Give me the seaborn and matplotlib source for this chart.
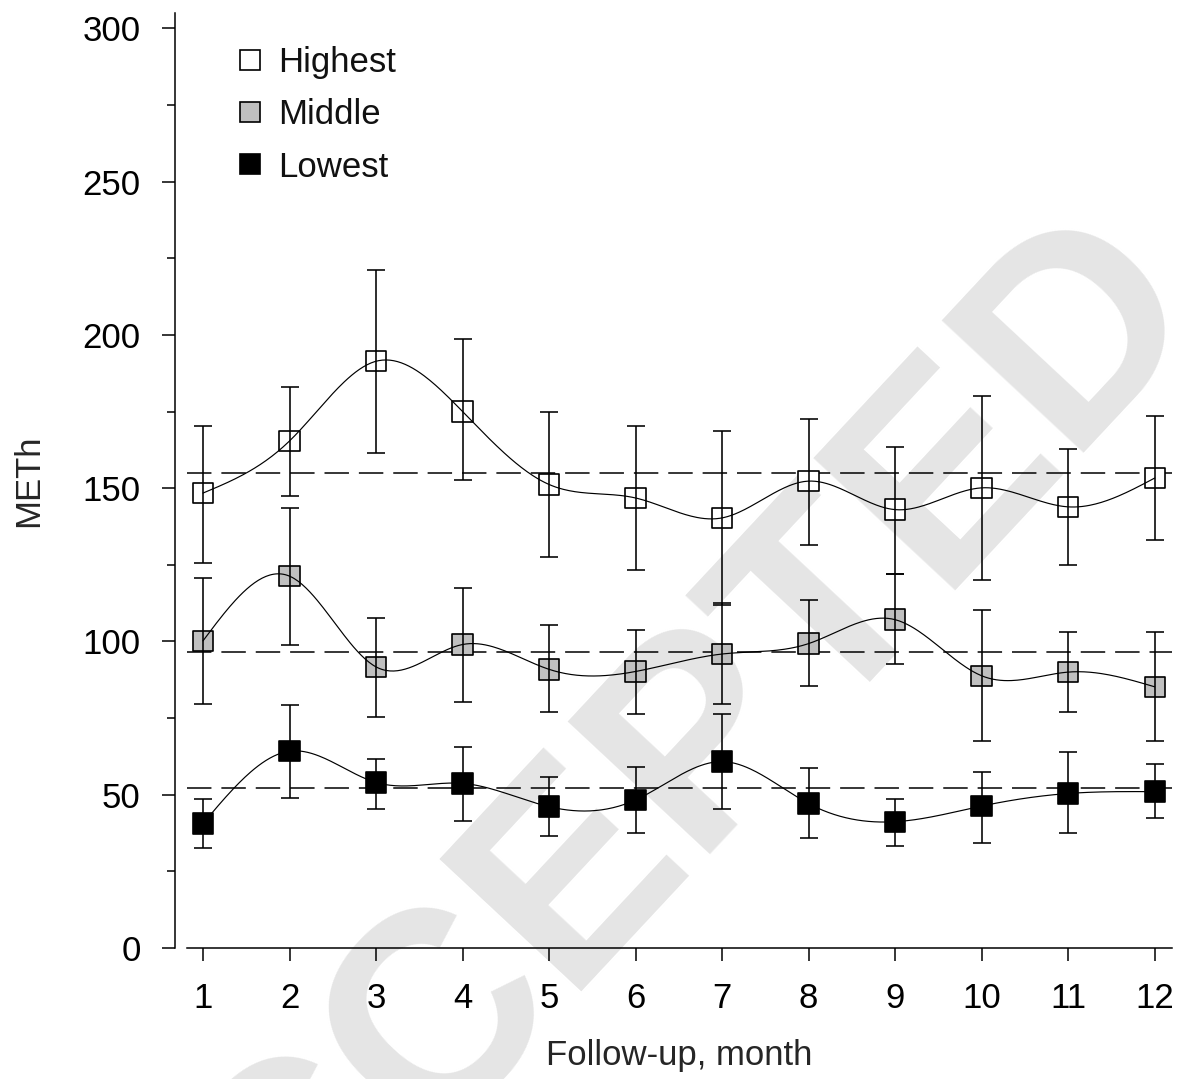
import numpy as np
import pandas as pd
import matplotlib
matplotlib.use("Agg")
import matplotlib.pyplot as plt
import seaborn as sns
from matplotlib.lines import Line2D
from matplotlib.ticker import MultipleLocator

# ---------------- data ----------------
months = [1, 2, 3, 4, 5, 6, 7, 8, 9, 10, 11, 12]
groups = ["Highest", "Middle", "Lowest"]

highest_mean = [148.4, 165.4, 191.4, 175.0, 151.2, 146.8, 140.3, 152.3, 143.0, 150.1, 143.9, 153.3]
highest_upper = [170.3, 183.0, 221.3, 198.5, 175.0, 170.2, 168.6, 172.5, 163.5, 180.1, 162.7, 173.5]
highest_lower = [125.6, 147.4, 161.5, 152.6, 127.4, 123.2, 112.0, 131.4, 122.1, 120.0, 124.9, 133.0]

middle_mean = [100.2, 121.3, 91.7, 99.0, 90.9, 90.2, 95.9, 99.3, 107.1, 88.8, 90.0, 85.2]
middle_upper = [120.7, 143.6, 107.8, 117.5, 105.3, 103.7, 112.4, 113.5, 122.0, 110.2, 103.0, 103.0]
middle_lower = [79.6, 99.0, 75.4, 80.2, 77.1, 76.3, 79.6, 85.4, 92.5, 67.5, 77.1, 67.5]

lowest_mean = [40.6, 64.2, 54.0, 53.7, 46.1, 48.3, 60.8, 47.1, 41.2, 46.3, 50.4, 51.0]
lowest_upper = [48.7, 79.4, 61.6, 65.6, 55.9, 59.1, 76.3, 58.6, 48.6, 57.5, 64.0, 60.0]
lowest_lower = [32.5, 48.8, 45.5, 41.4, 36.6, 37.4, 45.5, 35.8, 33.3, 34.1, 37.4, 42.3]

reference_levels = [155.0, 96.4, 52.1]

y_ticks = [0, 50, 100, 150, 200, 250, 300]
x_label = "Follow-up, month"
y_label = "METh"
watermark = "ACCEPTED"

fills = {"Highest": "white", "Middle": "#c0c0c0", "Lowest": "black"}

series = {
    "Highest": (highest_mean, highest_upper, highest_lower),
    "Middle": (middle_mean, middle_upper, middle_lower),
    "Lowest": (lowest_mean, lowest_upper, lowest_lower),
}


def natural_spline(x, y, n=500):
    x = np.asarray(x, float)
    y = np.asarray(y, float)
    nn = len(x)
    h = np.diff(x)
    A = np.zeros((nn, nn))
    b = np.zeros(nn)
    A[0, 0] = 1.0
    A[-1, -1] = 1.0
    for i in range(1, nn - 1):
        A[i, i - 1] = h[i - 1]
        A[i, i] = 2 * (h[i - 1] + h[i])
        A[i, i + 1] = h[i]
        b[i] = 6 * ((y[i + 1] - y[i]) / h[i] - (y[i] - y[i - 1]) / h[i - 1])
    M = np.linalg.solve(A, b)
    xs = np.linspace(x[0], x[-1], n)
    idx = np.clip(np.searchsorted(x, xs) - 1, 0, nn - 2)
    x0 = x[idx]
    x1 = x[idx + 1]
    hh = x1 - x0
    t0 = x1 - xs
    t1 = xs - x0
    ys = (M[idx] * t0 ** 3 / (6 * hh) + M[idx + 1] * t1 ** 3 / (6 * hh)
          + (y[idx] / hh - M[idx] * hh / 6) * t0
          + (y[idx + 1] / hh - M[idx + 1] * hh / 6) * t1)
    return xs, ys


# build tables
point_rows = []
curve_rows = []
for g in groups:
    mean, up, lo = series[g]
    for m, v in zip(months, mean):
        point_rows.append({"month": m, "value": v, "group": g})
    xs, ys = natural_spline(months, mean)
    for xv, yv in zip(xs, ys):
        curve_rows.append({"month": xv, "value": yv, "group": g})
points = pd.DataFrame(point_rows)
curves = pd.DataFrame(curve_rows)

# ---------------- style ----------------
sns.set_theme(style="ticks")
plt.rcParams["font.family"] = ["Liberation Sans", "DejaVu Sans"]
plt.rcParams["axes.edgecolor"] = "black"
plt.rcParams["xtick.color"] = "black"
plt.rcParams["ytick.color"] = "black"
plt.rcParams["text.color"] = "#111111"

fig = plt.figure(figsize=(11.81, 10.79), dpi=100)
fig.patch.set_facecolor("white")

# watermark behind everything
fig.text(0.530, 0.232, watermark, fontsize=203, fontweight="bold", color="#e5e5e5",
         rotation=47, ha="center", va="center", zorder=-1,
         family=["Liberation Sans", "DejaVu Sans"])

ax = fig.add_axes([187 / 1181, 131 / 1079, 985 / 1181, 935 / 1079])
ax.set_facecolor("none")

for lvl in reference_levels:
    ax.axhline(lvl, color="black", lw=1.1, dashes=(16, 6.5), zorder=1)

sns.scatterplot(data=points, x="month", y="value", hue="group", palette=fills,
                marker="s", s=215, edgecolor="black", linewidth=1.2,
                legend=False, ax=ax, zorder=2)

for g in groups:
    mean, up, lo = series[g]
    mean_a = np.asarray(mean)
    yerr = [mean_a - np.asarray(lo), np.asarray(up) - mean_a]
    ax.errorbar(months, mean, yerr=yerr, fmt="none", ecolor="black",
                elinewidth=1.15, capsize=6.2, capthick=1.15, zorder=3)

sns.lineplot(data=curves, x="month", y="value", hue="group",
             palette={g: "black" for g in groups}, estimator=None, sort=False,
             linewidth=0.85, legend=False, ax=ax, zorder=4)

ax.set_xlim(0.815, 12.2)
ax.set_ylim(0, 305)
ax.set_xticks(months)
ax.set_yticks(y_ticks)
ax.yaxis.set_minor_locator(MultipleLocator(25))

for s in ["top", "right"]:
    ax.spines[s].set_visible(False)
ax.spines["left"].set_position(("outward", 9))
ax.spines["left"].set_linewidth(1.1)
ax.spines["bottom"].set_linewidth(1.1)

ax.tick_params(axis="both", which="major", direction="out", length=9.4, width=1.1,
               labelsize=25)
ax.tick_params(axis="y", which="major", pad=15)
ax.tick_params(axis="x", which="major", pad=15)
ax.tick_params(axis="y", which="minor", direction="out", length=5.8, width=1.1)

ax.set_xlabel(x_label, fontsize=25, labelpad=17)
ax.set_ylabel(y_label, fontsize=25, labelpad=27)

handles = [Line2D([], [], marker="s", linestyle="none", markerfacecolor=fills[g],
                  markeredgecolor="black", markersize=15, markeredgewidth=1.2)
           for g in groups]
ax.legend(handles, groups, loc="upper left", bbox_to_anchor=(0.05, 0.965),
          frameon=False, fontsize=25, handlelength=0.8, handletextpad=0.4,
          labelspacing=0.56, borderpad=0, borderaxespad=0)

fig.savefig("out.png", dpi=100, facecolor="white")
